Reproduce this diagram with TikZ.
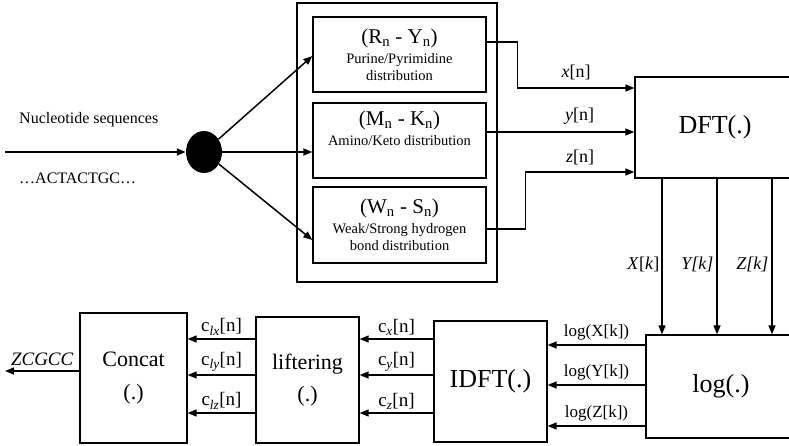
\documentclass[tikz,border=0pt]{standalone}
\usepackage{fontspec}
\setmainfont{Liberation Serif}
\usetikzlibrary{shapes.geometric, arrows.meta, positioning}

\begin{document}
\begin{tikzpicture}[
    x=1pt, y=-1pt,
    box/.style={rectangle, draw, line width=1.3pt, inner sep=0pt, align=center},
    mapbox/.style={box, minimum width=173pt, font=\fontsize{14.5}{17}\selectfont},
    dot/.style={ellipse, fill=black, minimum width=36pt, minimum height=42pt, inner sep=0pt},
    arr/.style={-{Triangle[length=9pt,width=7pt]}, line width=1.5pt},
    lbl/.style={font=\fontsize{16}{18}\selectfont, inner sep=1pt},
    clbl/.style={lbl, font=\fontsize{19}{21}\selectfont},
    >=Triangle
]
\useasboundingbox (0,0) rectangle (789,445);

% Input sequence and splitting point
\coordinate (in) at (5,152);
\node[dot] (split) at (204,152) {};
\node[lbl, anchor=west] (name) at (18,120) {Nucleotide sequences};
\node[lbl, anchor=west] (seq) at (18,178) {…ACTACTGC…};

% Numerical mappings (group box and three distributions)
\node[box, minimum width=200pt, minimum height=279pt] (group) at (397,142.5) {};
\node[mapbox, minimum height=75pt] (rn) at (399.5,54.5)
    {{\fontsize{21}{23}\selectfont (R\textsubscript{n} - Y\textsubscript{n})}\\[3pt]
     Purine/Pyrimidine\\ distribution};
\node[mapbox, minimum height=75pt] (mk) at (399.5,140.5)
    {{\fontsize{21}{23}\selectfont (M\textsubscript{n} - K\textsubscript{n})}\\[3pt]
     Amino/Keto distribution\\[8pt]};
\node[mapbox, minimum height=76pt] (ws) at (399.5,225)
    {{\fontsize{21}{23}\selectfont (W\textsubscript{n} - S\textsubscript{n})}\\[3pt]
     Weak/Strong hydrogen\\ bond distribution};

% Transform blocks
\node[box, minimum width=160pt, minimum height=101pt, font=\fontsize{26}{28}\selectfont] (dft) at (715,127.5) {DFT(.)};
\node[box, minimum width=150pt, minimum height=103pt, font=\fontsize{26}{28}\selectfont] (log) at (721,386.5) {log(.)};
\node[box, minimum width=113pt, minimum height=121pt, font=\fontsize{26}{28}\selectfont] (idft) at (490.5,381.5) {IDFT(.)};
\node[box, minimum width=103pt, minimum height=126pt, font=\fontsize{22}{32}\selectfont] (lift) at (307.5,380) {liftering\\(.)};
\node[box, minimum width=107pt, minimum height=130pt, font=\fontsize{22}{33}\selectfont] (concat) at (133.5,378) {Concat\\(.)};
\coordinate (out) at (5,371);

% --- Connections ---

% Sequence into the three mappings
\draw[arr] (in) -- (split);
\draw[arr] (split) -- ([yshift=-1.5pt]rn.west);
\draw[arr] (split) -- (split -| mk.west);
\draw[arr] (split) -- ([yshift=-15pt]ws.west);

% Mappings into DFT
\draw[arr] ([yshift=12.5pt]rn.east) -- ++(31,0) |- ([yshift=39.5pt]dft.west)
    node[lbl, pos=0.75, above=6pt, font=\fontsize{18}{20}\selectfont] {\textit{x}[n]};
\draw[arr] ([yshift=8.5pt]mk.east) -- ([yshift=-4.5pt]dft.west)
    node[lbl, pos=0.63, above=6pt, font=\fontsize{18}{20}\selectfont] {\textit{y}[n]};
\draw[arr] ([yshift=-4pt]ws.east) -- ++(39,0) |- ([yshift=-44.5pt]dft.west)
    node[lbl, pos=0.75, above=5pt, font=\fontsize{18}{20}\selectfont] {\textit{z}[n]};

% DFT into log
\draw[arr] ([xshift=-53pt]dft.south) -- ([xshift=-53pt]dft.south |- log.north)
    node[lbl, pos=0.55, left=1pt, font=\fontsize{18}{20}\selectfont] {\textit{X}[\textit{k}]};
\draw[arr] ([xshift=2pt]dft.south) -- ([xshift=2pt]dft.south |- log.north)
    node[lbl, pos=0.55, left=2pt, font=\fontsize{18}{20}\selectfont] {\textit{Y[k]}};
\draw[arr] ([xshift=57pt]dft.south) -- ([xshift=57pt]dft.south |- log.north)
    node[lbl, pos=0.55, left=2pt, font=\fontsize{18}{20}\selectfont] {\textit{Z[k]}};

% log into IDFT
\draw[arr] ([yshift=41.5pt]log.west) -- ([yshift=41.5pt]log.west -| idft.east)
    node[lbl, midway, above=3pt, font=\fontsize{17}{19}\selectfont] {log(X[k])};
\draw[arr] ([yshift=1.5pt]log.west) -- ([yshift=1.5pt]log.west -| idft.east)
    node[lbl, midway, above=3pt, font=\fontsize{17}{19}\selectfont] {log(Y[k])};
\draw[arr] ([yshift=-39.5pt]log.west) -- ([yshift=-39.5pt]log.west -| idft.east)
    node[lbl, midway, above=3pt, font=\fontsize{17}{19}\selectfont] {log(Z[k])};

% IDFT into liftering
\draw[arr] ([yshift=42.5pt]idft.west) -- ([yshift=42.5pt]idft.west -| lift.east)
    node[clbl, midway, above=2pt] {c\textsubscript{\textit{x}}[n]};
\draw[arr] ([yshift=6.5pt]idft.west) -- ([yshift=6.5pt]idft.west -| lift.east)
    node[clbl, midway, above=2pt] {c\textsubscript{\textit{y}}[n]};
\draw[arr] ([yshift=-31.5pt]idft.west) -- ([yshift=-31.5pt]idft.west -| lift.east)
    node[clbl, midway, above=2pt] {c\textsubscript{\textit{z}}[n]};

% liftering into Concat
\draw[arr] ([yshift=41pt]lift.west) -- ([yshift=41pt]lift.west -| concat.east)
    node[clbl, midway, above=2pt] {c\textsubscript{\textit{lx}}[n]};
\draw[arr] ([yshift=5pt]lift.west) -- ([yshift=5pt]lift.west -| concat.east)
    node[clbl, midway, above=2pt] {c\textsubscript{\textit{ly}}[n]};
\draw[arr] ([yshift=-33pt]lift.west) -- ([yshift=-33pt]lift.west -| concat.east)
    node[clbl, midway, above=2pt] {c\textsubscript{\textit{lz}}[n]};

% Output feature
\draw[arr] (concat.west |- out) -- (out)
    node[lbl, midway, above=4pt, font=\fontsize{19}{21}\selectfont\itshape] {ZCGCC};

\end{tikzpicture}
\end{document}
